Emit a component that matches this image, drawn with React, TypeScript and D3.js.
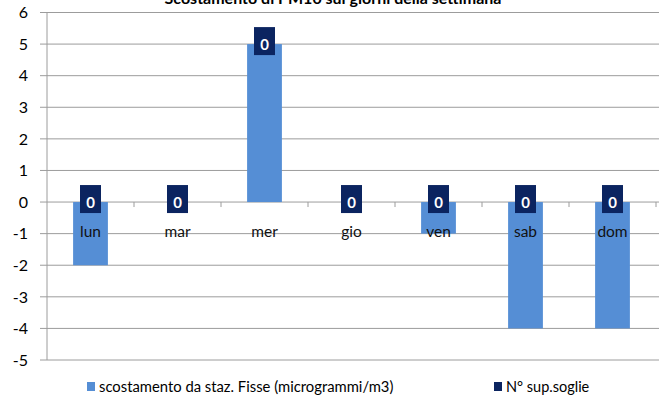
import React from "react";
import * as d3 from "d3";

const title = "Scostamento di PM10 sui giorni della settimana";
const days = ["lun", "mar", "mer", "gio", "ven", "sab", "dom"];
const scostamento = [-2, 0, 5, 0, -1, -4, -4];
const supSoglie = [0, 0, 0, 0, 0, 0, 0];
const yTicks = [6, 5, 4, 3, 2, 1, 0, -1, -2, -3, -4, -5];
const seriesNames = ["scostamento da staz. Fisse (microgrammi/m3)", "N° sup.soglie"];

const W = 659;
const H = 403;
const FONT = "Lato, 'Noto Sans', sans-serif";
const BLUE = "#558ed5";
const NAVY = "#0b2460";
const GRID = "#9c9c9c";

export default function App() {
  const x = d3.scaleBand<string>().domain(days).range([47, 656]).paddingInner(0.6).paddingOuter(0.3);
  const xCat = d3.scaleBand<string>().domain(days).range([47, 656]).padding(0);
  const y = d3.scaleLinear().domain([-5, 6]).range([360, 12.5]);
  const y0 = y(0);

  return (
    <svg width={W} height={H} style={{ position: "absolute", left: 0, top: 0, background: "#fff" }} fontFamily={FONT}>
      <text x={333} y={4} textAnchor="middle" fontSize={16} fontWeight="bold" fill="#000">{title}</text>
      {yTicks.map((t) => (
        <g key={t}>
          <line x1={40} x2={659} y1={y(t)} y2={y(t)} stroke={GRID} strokeWidth={1} />
          <text x={28} y={y(t)} dy="0.36em" textAnchor="end" fontSize={16} fill="#000">{t}</text>
        </g>
      ))}
      <line x1={47} x2={47} y1={y(6)} y2={y(-5)} stroke={GRID} strokeWidth={1} />
      {days.map((d) => (
        <line key={"t" + d} x1={(xCat(d) as number) + xCat.bandwidth()} x2={(xCat(d) as number) + xCat.bandwidth()} y1={y0} y2={y0 + 5} stroke={GRID} strokeWidth={1} />
      ))}
      {days.map((d, i) => {
        const v = scostamento[i];
        return (
          <rect key={"b" + d} x={x(d)} width={x.bandwidth()} y={Math.min(y(v), y0)} height={Math.abs(y(v) - y0)} fill={BLUE} />
        );
      })}
      {days.map((d) => (
        <text key={"l" + d} x={(xCat(d) as number) + xCat.bandwidth() / 2} y={236.5} textAnchor="middle" fontSize={15.5} fill="#111">{d}</text>
      ))}
      {days.map((d, i) => {
        const top = Math.max(0, scostamento[i]) + supSoglie[i];
        const cx = (x(d) as number) + x.bandwidth() / 2;
        const cy = y(top);
        return (
          <g key={"s" + d}>
            <rect x={cx - 10.5} y={cy - 17} width={21} height={28} fill={NAVY} />
            <text x={cx} y={cy + 6} textAnchor="middle" fontSize={15} fontWeight="bold" fill="#fff">{supSoglie[i]}</text>
          </g>
        );
      })}
      <rect x={87} y={382} width={8} height={9} fill={BLUE} />
      <text x={99} y={392} fontSize={14.8} fill="#000">{seriesNames[0]}</text>
      <rect x={494} y={382} width={8} height={9} fill={NAVY} />
      <text x={506} y={392} fontSize={14.5} fill="#000">{seriesNames[1]}</text>
    </svg>
  );
}
